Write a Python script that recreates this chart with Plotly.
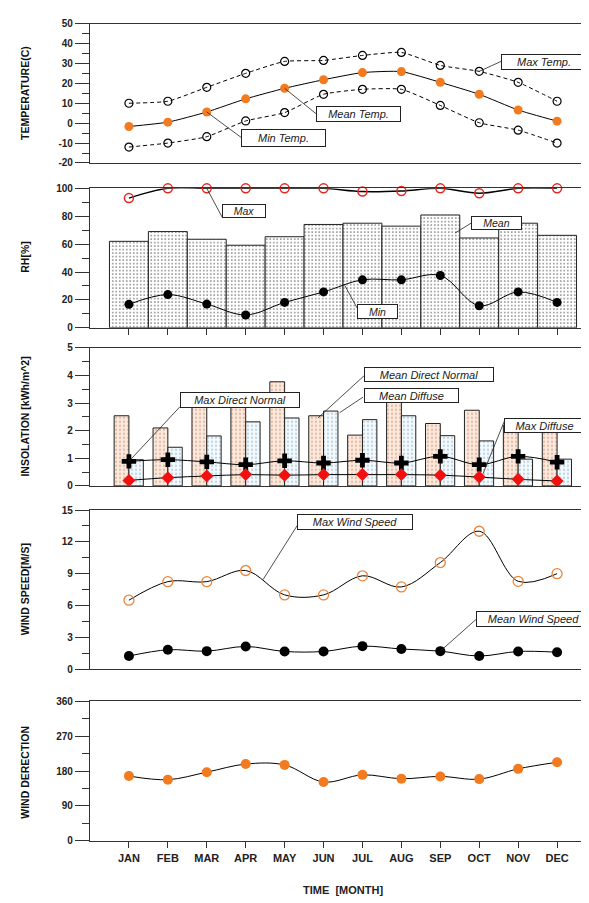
import plotly.graph_objects as go
from plotly.subplots import make_subplots

months = ["JAN", "FEB", "MAR", "APR", "MAY", "JUN", "JUL", "AUG", "SEP", "OCT", "NOV", "DEC"]
month_idx = list(range(1, 13))

temp_ticks = [-20, -10, 0, 10, 20, 30, 40, 50]
temp_ticktext = ["-20", "-10", "0", "10", "20", "30", "40", "50"]

temp_max = [10, 11, 18, 25, 31, 31.5, 34, 35.5, 29, 26, 20.5, 11]
temp_mean = [-1.7, 0.5, 5.6, 12.2, 17.5, 21.8, 25.4, 25.9, 20.5, 14.5, 6.6, 1.0]
temp_min = [-12, -10, -6.8, 1.1, 5.3, 14.5, 17, 17, 8.9, 0.2, -3.5, -10]

rh_max = [93, 100, 100, 100, 100, 100, 97.7, 98.1, 100, 96.5, 100, 100]
rh_mean = [62, 69, 63.5, 59.2, 65.3, 74.1, 75, 72.9, 80.9, 64.4, 75, 66.3]
rh_min = [16.8, 23.8, 17, 9.2, 18.2, 25.7, 34.4, 34.4, 37.5, 15.8, 25.7, 18.2]

ins_mean_direct = [2.54, 2.1, 3.1, 3.2, 3.77, 2.54, 1.84, 3.2, 2.26, 2.74, 2.2, 2.2]
ins_mean_diffuse = [0.95, 1.4, 1.81, 2.32, 2.46, 2.71, 2.4, 2.54, 1.82, 1.63, 0.97, 0.97]
ins_max_direct = [0.89, 0.95, 0.87, 0.77, 0.91, 0.83, 0.93, 0.83, 1.07, 0.77, 1.07, 0.86]
ins_max_diffuse = [0.2, 0.3, 0.36, 0.41, 0.39, 0.41, 0.41, 0.41, 0.39, 0.32, 0.24, 0.18]

ws_max = [6.5, 8.25, 8.25, 9.3, 7.0, 7.0, 8.8, 7.75, 10.05, 13.0, 8.28, 9.0]
ws_mean = [1.24, 1.83, 1.7, 2.14, 1.67, 1.67, 2.17, 1.9, 1.7, 1.24, 1.67, 1.6]

wind_dir = [167, 157.5, 177, 198, 195.8, 151.6, 170, 160, 166, 159, 185.6, 202.6]

ORANGE = "#f27a1f"
FONT = "Liberation Sans, Arial, sans-serif"
AX = "#333333"

fig = make_subplots(rows=5, cols=1)

# ---- Panel 1: temperature
fig.add_trace(go.Scatter(x=month_idx, y=temp_max, mode="lines+markers",
                         line=dict(color="black", width=1, dash="4px,3px", shape="spline", smoothing=0.5),
                         marker=dict(symbol="circle-open", size=8, color="black", line=dict(width=1.2))),
              row=1, col=1)
fig.add_trace(go.Scatter(x=month_idx, y=temp_min, mode="lines+markers",
                         line=dict(color="black", width=1, dash="4px,3px", shape="spline", smoothing=0.5),
                         marker=dict(symbol="circle-open", size=8, color="black", line=dict(width=1.2))),
              row=1, col=1)
fig.add_trace(go.Scatter(x=month_idx, y=temp_mean, mode="lines+markers",
                         line=dict(color="black", width=1, shape="spline", smoothing=0.5),
                         marker=dict(symbol="circle", size=9, color=ORANGE)),
              row=1, col=1)

# ---- Panel 2: RH
fig.add_trace(go.Bar(x=month_idx, y=rh_mean, width=1.0, offset=-0.5,
                     marker=dict(color="white", line=dict(color="#222", width=1),
                                 pattern=dict(shape=".", size=3.5, solidity=0.22, fgcolor="#222", bgcolor="white"))),
              row=2, col=1)
fig.add_trace(go.Scatter(x=month_idx, y=rh_max, mode="lines+markers", cliponaxis=False,
                         line=dict(color="black", width=1.5, shape="spline"),
                         marker=dict(symbol="circle-open", size=9, color="#e3261f", line=dict(width=1.5))),
              row=2, col=1)
fig.add_trace(go.Scatter(x=month_idx, y=rh_min, mode="lines+markers",
                         line=dict(color="black", width=1, shape="spline"),
                         marker=dict(symbol="circle", size=9, color="black")),
              row=2, col=1)

# ---- Panel 3: insolation
fig.add_trace(go.Bar(x=month_idx, y=ins_mean_direct, width=0.38, offset=-0.38,
                     marker=dict(color="#fbe6d8", line=dict(color="#222", width=1),
                                 pattern=dict(shape=".", size=4, solidity=0.25, fgcolor="#d08a6a", bgcolor="#fbe9dd"))),
              row=3, col=1)
fig.add_trace(go.Bar(x=month_idx, y=ins_mean_diffuse, width=0.37, offset=0,
                     marker=dict(color="#f2f8fc", line=dict(color="#222", width=1),
                                 pattern=dict(shape=".", size=4, solidity=0.25, fgcolor="#86acd0", bgcolor="#f4f9fc"))),
              row=3, col=1)
fig.add_trace(go.Scatter(x=month_idx, y=ins_max_direct, mode="lines+markers",
                         line=dict(color="black", width=1, shape="spline"),
                         marker=dict(symbol="cross", size=12, color="black")),
              row=3, col=1)
fig.add_trace(go.Scatter(x=month_idx, y=ins_max_diffuse, mode="lines+markers",
                         line=dict(color="black", width=1, shape="spline"),
                         marker=dict(symbol="diamond", size=10, color="#f01010")),
              row=3, col=1)

# ---- Panel 4: wind speed
fig.add_trace(go.Scatter(x=month_idx, y=ws_max, mode="lines+markers",
                         line=dict(color="black", width=1, shape="spline"),
                         marker=dict(symbol="circle-open", size=10, color="#e9863e", line=dict(width=1.3))),
              row=4, col=1)
fig.add_trace(go.Scatter(x=month_idx, y=ws_mean, mode="lines+markers",
                         line=dict(color="black", width=1, shape="spline"),
                         marker=dict(symbol="circle", size=10, color="black")),
              row=4, col=1)

# ---- Panel 5: wind direction
fig.add_trace(go.Scatter(x=month_idx, y=wind_dir, mode="lines+markers",
                         line=dict(color="black", width=1, shape="spline"),
                         marker=dict(symbol="circle", size=10, color=ORANGE)),
              row=5, col=1)

H = 903.0
panels = [  # (top px, bottom px, range, dtick, minor dtick)
    (9.7, 151.0, [-20, 50], 10, 5),
    (176.7, 318.0, [0, 100], 20, 10),
    (338.3, 478.3, [0, 5], 1, 0.5),
    (502.7, 664.0, [0, 15], 3, 1.5),
    (696.7, 837.7, [0, 360], 90, 45),
]

for i, (top, bot, rng, dt, mdt) in enumerate(panels, start=1):
    fig.update_yaxes(
        domain=[1 - bot / H, 1 - top / H], range=rng, tickmode="linear", tick0=rng[0], dtick=dt,
        showline=True, mirror=True, linecolor=AX, linewidth=1.3,
        ticks="outside", ticklen=14, tickwidth=1.2, tickcolor=AX,
        minor=dict(dtick=mdt, tick0=rng[0], ticks="outside", ticklen=7, tickwidth=1, tickcolor=AX, showgrid=False),
        showgrid=False, zeroline=False,
        tickfont=dict(family=FONT, size=10, color="#222", weight="bold"),
        row=i, col=1)
    fig.update_xaxes(
        range=[0, 13], tickmode="array", tickvals=month_idx, ticktext=months,
        showline=True, mirror=True, linecolor=AX, linewidth=1.3,
        ticks="outside" if i in (2, 5) else "", ticklen=6, tickwidth=1, tickcolor=AX,
        showticklabels=(i == 5), showgrid=False, zeroline=False,
        tickfont=dict(family=FONT, size=11, color="#222", weight="bold"),
        ticklabelstandoff=1,
        row=i, col=1)

fig.update_yaxes(tickmode="array", tickvals=temp_ticks, ticktext=temp_ticktext, row=1, col=1)

annotations = []
# y-axis titles
ytitles = [("TEMPERATURE(C)", 80), ("RH[%]", 246), ("INSOLATION [kWh/m^2]", 408),
           ("WIND SPEED[M/S]", 583), ("WIND DERECTION", 769)]
for txt, py in ytitles:
    annotations.append(dict(text=txt, xref="paper", yref="paper", x=(17 - 82) / 506.0, y=1 - py / H,
                            xanchor="center", yanchor="middle", textangle=-90, showarrow=False,
                            font=dict(family=FONT, size=10.5, color="#111", weight="bold")))
annotations.append(dict(text="TIME  [MONTH]", xref="paper", yref="paper", x=0.5, y=1 - 888 / H,
                        xanchor="center", yanchor="middle", showarrow=False,
                        font=dict(family=FONT, size=11, color="#222", weight="bold")))

shapes = []


def label(text, n, xc, yc, w, h, size=11, leader=None):
    annotations.append(dict(text="<i>" + text + "</i>", xref=f"x{n}" if n > 1 else "x",
                            yref=f"y{n}" if n > 1 else "y", x=xc, y=yc,
                            xanchor="center", yanchor="middle", showarrow=False,
                            width=w - 4, height=h - 4, bgcolor="white", bordercolor="#222",
                            borderwidth=1, borderpad=1,
                            font=dict(family=FONT, size=size, color="#1a1a1a")))
    if leader is not None:
        (x0, y0), (x1, y1) = leader
        shapes.append(dict(type="line", xref=f"x{n}" if n > 1 else "x", yref=f"y{n}" if n > 1 else "y",
                           x0=x0, y0=y0, x1=x1, y1=y1, line=dict(color="#222", width=0.8)))


# temperature labels
label("Max Temp.", 1, 11.665, 30.52, 86, 16, leader=((10, temp_max[9]), (10.56, 31.0)))
label("Mean Temp.", 1, 6.899, 4.76, 85, 16, leader=((5, temp_mean[4]), (5.807, 4.76)))
label("Min Temp.", 1, 4.972, -7.62, 85, 18, leader=((3, temp_mean[2]), (3.880, -7.12)))
# RH labels
label("Max", 2, 3.957, 83.7, 44, 14, size=10.5, leader=((3, rh_max[2]), (3.392, 79.5)))
label("Mean", 2, 10.445, 75.0, 51, 14, size=10.5, leader=((9.789, 75.0), (9.378, 67.9)))
label("Min", 2, 7.387, 11.7, 41, 15, size=10.5, leader=((6.545, 30.4), (6.868, 13.94)))
# insolation labels
label("Max Direct Normal", 3, 3.854, 3.118, 120, 16, leader=((1, ins_max_direct[0]), (2.312, 2.868)))
label("Mean Direct Normal", 3, 8.710, 4.029, 130, 15, leader=((5.858, 2.464), (7.040, 3.986)))
label("Mean Diffuse", 3, 8.260, 3.279, 95, 15, leader=((6.415, 2.654), (7.014, 3.214)))
label("Max Diffuse", 3, 11.678, 2.171, 81, 15, leader=((10.1, 0.45), (10.655, 2.379)))
# wind speed labels
label("Max Wind Speed", 4, 6.809, 13.857, 116, 16, leader=((4.445, 8.435), (5.326, 13.55)))
label("Mean Wind Speed", 4, 11.395, 4.743, 115, 16, leader=((9, ws_mean[8]), (9.926, 4.715)))

fig.update_layout(
    width=589, height=903, margin=dict(l=82, r=1, t=0, b=0),
    plot_bgcolor="white", paper_bgcolor="white", showlegend=False,
    barmode="overlay", annotations=annotations, shapes=shapes,
    font=dict(family=FONT),
)

fig.write_html("out.html")
